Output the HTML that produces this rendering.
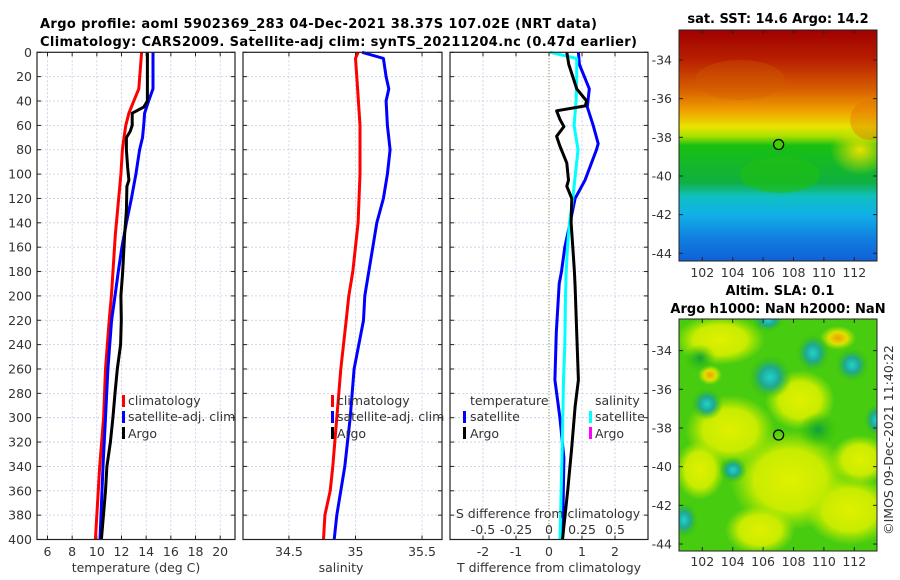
<!DOCTYPE html>
<html><head><meta charset="utf-8">
<style>
html,body{margin:0;padding:0;background:#fff;}
svg{display:block;font-family:"DejaVu Sans","Liberation Sans",sans-serif;}
.tk{font-size:12.5px;fill:#333;}
.ttl{font-size:13px;font-weight:bold;fill:#000;}
</style></head>
<body>
<svg id="fig" width="900" height="580" viewBox="0 0 900 580" xmlns="http://www.w3.org/2000/svg">
<defs>
<linearGradient id="sstg" x1="0" y1="0" x2="0" y2="1">
<stop offset="0" stop-color="#a00000"/><stop offset="0.13" stop-color="#b82000"/>
<stop offset="0.26" stop-color="#d86000"/><stop offset="0.35" stop-color="#f0a000"/>
<stop offset="0.42" stop-color="#e8e400"/><stop offset="0.46" stop-color="#a8e000"/>
<stop offset="0.5" stop-color="#18c010"/><stop offset="0.66" stop-color="#10b040"/>
<stop offset="0.72" stop-color="#10c0c0"/><stop offset="0.8" stop-color="#10b0e8"/>
<stop offset="0.9" stop-color="#1080e0"/><stop offset="1" stop-color="#1060d8"/>
</linearGradient>
<radialGradient id="teal"><stop offset="0" stop-color="#20d0d0"/><stop offset="0.45" stop-color="#20a890"/><stop offset="1" stop-color="#30c000" stop-opacity="0"/></radialGradient>
<radialGradient id="dkg"><stop offset="0" stop-color="#10a040"/><stop offset="1" stop-color="#30c000" stop-opacity="0"/></radialGradient>
<radialGradient id="yel"><stop offset="0" stop-color="#e0f000"/><stop offset="0.6" stop-color="#c8ec00"/><stop offset="1" stop-color="#b0e800" stop-opacity="0"/></radialGradient>
<radialGradient id="org"><stop offset="0" stop-color="#f0a000"/><stop offset="0.5" stop-color="#e0e000"/><stop offset="1" stop-color="#c0e800" stop-opacity="0"/></radialGradient>
<radialGradient id="yelR"><stop offset="0" stop-color="#e8e000"/><stop offset="1" stop-color="#e8e000" stop-opacity="0"/></radialGradient>
<clipPath id="m1c"><rect x="679" y="30" width="198" height="231"/></clipPath>
<clipPath id="m2c"><rect x="679" y="319" width="198" height="232"/></clipPath>
</defs>
<text class="ttl" x="40" y="28" textLength="557">Argo profile: aoml 5902369_283 04-Dec-2021 38.37S 107.02E (NRT data)</text>
<text class="ttl" x="40" y="46" textLength="597">Climatology: CARS2009. Satellite-adj clim: synTS_20211204.nc (0.47d earlier)</text>
<g id="plots"></g>
<g clip-path="url(#m1c)">
<rect x="679" y="30" width="198" height="231" fill="url(#sstg)"/>
<ellipse cx="860" cy="150" rx="30" ry="25" fill="url(#yelR)"/>
<ellipse cx="870" cy="120" rx="20" ry="20" fill="#e07000" opacity="0.4"/>
<ellipse cx="740" cy="80" rx="45" ry="20" fill="#d06000" opacity="0.3"/>
<ellipse cx="780" cy="175" rx="40" ry="18" fill="#20c010" opacity="0.6"/>
</g>
<rect x="679" y="30" width="198" height="231" fill="none" stroke="#222"/>
<circle cx="778.6" cy="144.5" r="5" fill="#40d000" stroke="#000" stroke-width="1.3"/>
<text class="ttl" x="778" y="23" text-anchor="middle">sat. SST: 14.6 Argo: 14.2</text>
<g clip-path="url(#m2c)">
<rect x="679" y="319" width="198" height="232" fill="#48cc10"/>
<ellipse cx="790" cy="480" rx="60" ry="50" fill="url(#yel)"/>
<ellipse cx="730" cy="430" rx="45" ry="35" fill="url(#yel)"/>
<ellipse cx="850" cy="510" rx="45" ry="35" fill="url(#yel)"/>
<ellipse cx="720" cy="340" rx="45" ry="25" fill="url(#yel)"/>
<ellipse cx="800" cy="400" rx="35" ry="30" fill="url(#yel)"/>
<ellipse cx="860" cy="460" rx="30" ry="25" fill="url(#yel)"/>
<ellipse cx="760" cy="530" rx="35" ry="25" fill="url(#yel)"/>
<ellipse cx="700" cy="470" rx="25" ry="30" fill="url(#yel)"/>
<ellipse cx="838" cy="338" rx="18" ry="12" fill="url(#org)"/>
<ellipse cx="710" cy="375" rx="12" ry="10" fill="url(#org)"/>
<ellipse cx="770" cy="377" rx="22" ry="22" fill="url(#teal)"/>
<ellipse cx="813" cy="353" rx="17" ry="19" fill="url(#teal)"/>
<ellipse cx="852" cy="365" rx="17" ry="17" fill="url(#teal)"/>
<ellipse cx="707" cy="404" rx="16" ry="16" fill="url(#teal)"/>
<ellipse cx="818" cy="430" rx="20" ry="18" fill="url(#dkg)"/>
<ellipse cx="733" cy="470" rx="14" ry="13" fill="url(#teal)"/>
<ellipse cx="684" cy="520" rx="14" ry="18" fill="url(#teal)"/>
<ellipse cx="876" cy="420" rx="12" ry="16" fill="url(#teal)"/>
<ellipse cx="768" cy="320" rx="16" ry="12" fill="url(#teal)"/>
<ellipse cx="700" cy="358" rx="16" ry="14" fill="url(#dkg)"/>
</g>
<rect x="679" y="319" width="198" height="232" fill="none" stroke="#222"/>
<circle cx="778.6" cy="435" r="5" fill="none" stroke="#000" stroke-width="1.3"/>
<text class="ttl" x="780" y="295" text-anchor="middle">Altim. SLA: 0.1</text>
<text class="ttl" x="778" y="313" text-anchor="middle">Argo h1000: NaN h2000: NaN</text>
<text class="tk" transform="translate(893,440) rotate(-90)" text-anchor="middle">©IMOS 09-Dec-2021 11:40:22</text>
<g id="maps"></g>
</svg>
<script>
// ---- data ----
const depthTicks = [0,20,40,60,80,100,120,140,160,180,200,220,240,260,280,300,320,340,360,380,400];
const tempTicks = [6,8,10,12,14,16,18,20];
const salTicks = [34.5,35,35.5];
const salTickLabels = ["34.5","35","35.5"];
const tdiffTicks = [-2,-1,0,1,2];
const sdiffTicks = [-0.5,-0.25,0,0.25,0.5];
const sdiffTickLabels = ["-0.5","-0.25","0","0.25","0.5"];
const latTicks = [-34,-36,-38,-40,-42,-44];
const lonTicks = [102,104,106,108,110,112];

const climTdepth = [0,30,40,50,60,70,80,100,150,200,220,260,300,340,400];
const climT = [13.63,13.4,13.0,12.6,12.35,12.2,12.07,11.95,11.5,11.18,11.0,10.7,10.55,10.23,9.88];
const satTdepth = [0,30,40,50,60,70,80,100,120,140,160,180,200,220,260,300,340,400];
const satT = [14.55,14.55,14.2,13.87,13.8,13.7,13.47,13.17,12.8,12.4,12.03,11.74,11.47,11.2,10.9,10.7,10.5,10.26];
const argoTdepth = [0,40,45,50,60,65,70,80,95,105,110,130,150,180,200,220,240,260,280,300,320,340,360,400];
const argoT = [14.1,14.1,13.8,12.87,12.87,12.7,12.4,12.4,12.5,12.6,12.44,12.4,12.25,12.1,11.95,11.98,11.93,11.66,11.47,11.3,11.1,10.82,10.7,10.37];

const climSdepth = [0,5,20,60,100,140,180,200,220,260,300,340,360,380,400];
const climS = [35.02,35.0,35.01,35.034,35.034,35.02,34.98,34.95,34.93,34.89,34.86,34.83,34.81,34.77,34.76];
const satSdepth = [0,5,20,30,40,60,80,100,120,140,160,180,200,220,260,300,340,380,400];
const satS = [35.05,35.21,35.23,35.25,35.23,35.24,35.26,35.24,35.21,35.16,35.13,35.10,35.07,35.06,34.99,34.96,34.92,34.86,34.84];

const dTdepth = [0,10,30,45,60,75,80,105,120,140,160,180,190,230,269,300,333,400];
const dTsat = [0.89,0.92,1.22,1.16,1.34,1.49,1.44,1.09,0.79,0.64,0.48,0.38,0.31,0.22,0.18,0.33,0.45,0.41];
const dTargoDepth = [0,10,20,30,40,44,48,55,61,69,77,91,105,110,120,140,160,180,192,230,269,291,324,359,400];
const dTargo = [0.54,0.6,0.72,0.84,1.14,1.1,0.23,0.33,0.45,0.23,0.33,0.54,0.59,0.54,0.69,0.67,0.72,0.77,0.79,0.84,0.89,0.79,0.69,0.57,0.41];
const dSdepth = [0,5,20,40,60,80,100,120,140,160,180,200,240,270,325,400];
const dSsat = [0.008,0.21,0.21,0.205,0.19,0.22,0.2,0.18,0.155,0.14,0.13,0.125,0.12,0.11,0.10,0.083];

// ---- drawing ----
const NS="http://www.w3.org/2000/svg";
const root=document.getElementById('plots');
function mk(tag,attrs,parent){const e=document.createElementNS(NS,tag);for(const k in attrs)e.setAttribute(k,attrs[k]);(parent||root).appendChild(e);return e;}
const Y0=52.3, Y1=539.5;
function yD(d){return Y0+(d/400)*(Y1-Y0);}
const panels=[
 {x0:37,x1:235,v0:5.15,v1:21.2,name:'temperature'},
 {x0:243,x1:442,v0:34.155,v1:35.65,name:'salinity'},
 {x0:450,x1:648,v0:-3,v1:3,name:'difference'}];
function sx(p,v){return p.x0+(v-p.v0)/(p.v1-p.v0)*(p.x1-p.x0);}

function grid(p,ticks){
  for(const d of depthTicks){
    const l=mk('line',{x1:p.x0,x2:p.x1,y1:yD(d),y2:yD(d),stroke:'#c4cce8','stroke-width':0.8,'stroke-dasharray':'2,2'});
    
    
    mk('line',{x1:p.x0,x2:p.x0+4,y1:yD(d),y2:yD(d),stroke:'#222'});
    mk('line',{x1:p.x1-4,x2:p.x1,y1:yD(d),y2:yD(d),stroke:'#222'});
  }
  for(const t of ticks){
    const x=sx(p,t);
    const isZ=(t===0&&p.name==='difference');
    const l=mk('line',{x1:x,x2:x,y1:Y0,y2:Y1,stroke:isZ?'#707030':'#d0c8e0','stroke-width':isZ?1:0.8,'stroke-dasharray':isZ?'1,2':'2,2'});
    
    
    mk('line',{x1:x,x2:x,y1:Y1-4,y2:Y1,stroke:'#222'});
    mk('line',{x1:x,x2:x,y1:Y0,y2:Y0+4,stroke:'#222'});
  }
}
function frame(p){
  const r=mk('rect',{x:p.x0,y:Y0,width:p.x1-p.x0,height:Y1-Y0,fill:'none',stroke:'#222','stroke-width':1.2});
  
  
}
function line(p,depths,vals,color,name,scale){
  scale=scale||1;
  const pts=depths.map((d,i)=>sx(p,vals[i]*scale).toFixed(1)+','+yD(d).toFixed(1)).join(' ');
  const pl=mk('polyline',{points:pts,fill:'none',stroke:color,'stroke-width':3,'stroke-linejoin':'round'});
  
  
}
function txt(x,y,s,attrs,name){
  const t=mk('text',Object.assign({x:x,y:y,class:'tk'},attrs||{}));t.textContent=s;
  
  
  return t;
}
function legBar(x,y,c){const r=mk('rect',{x:x,y:y-11,width:3,height:12,fill:c});
  
  }

let p=panels[0];
grid(p,tempTicks);
line(p,climTdepth,climT,'#ff0000','climatology-temperature-line');
line(p,satTdepth,satT,'#0000ff','satellite-temperature-line');
line(p,argoTdepth,argoT,'#000000','argo-temperature-line');
frame(p);
for(const d of depthTicks) txt(32,yD(d)+4.5,String(d),{'text-anchor':'end'},'depth-tick-label');
for(const t of tempTicks) txt(sx(p,t),556,String(t),{'text-anchor':'middle'},'temperature-tick-label');
txt(136,572,'temperature (deg C)',{'text-anchor':'middle'},'temperature-axis-title');
legBar(122,406,'#ff0000');txt(128,405,'climatology',{},'legend-climatology');
legBar(122,422,'#0000ff');txt(128,421,'satellite-adj. clim',{},'legend-satellite-adj');
legBar(122,438,'#000');txt(128,438,'Argo',{},'legend-argo');

p=panels[1];
grid(p,salTicks);
line(p,climSdepth,climS,'#ff0000','climatology-salinity-line');
line(p,satSdepth,satS,'#0000ff','satellite-salinity-line');
frame(p);
salTicks.forEach((t,i)=>txt(sx(p,t),556,salTickLabels[i],{'text-anchor':'middle'},'salinity-tick-label'));
txt(341,572,'salinity',{'text-anchor':'middle'},'salinity-axis-title');
legBar(331,406,'#ff0000');txt(337,405,'climatology',{},'legend-climatology');
legBar(331,422,'#0000ff');txt(337,421,'satellite-adj. clim',{},'legend-satellite-adj');
legBar(331,438,'#000');txt(337,438,'Argo',{},'legend-argo');

p=panels[2];
grid(p,tdiffTicks);
line(p,dTdepth,dTsat,'#0000ff','satellite-tdiff-line');
line(p,dSdepth,dSsat,'#00ffff','satellite-sdiff-line',4);
line(p,dTargoDepth,dTargo,'#000000','argo-tdiff-line');
frame(p);
tdiffTicks.forEach(t=>txt(sx(p,t),556,String(t),{'text-anchor':'middle'},'tdiff-tick-label'));
txt(549,572,'T difference from climatology',{'text-anchor':'middle'},'tdiff-axis-title');
txt(548,518,'S difference from climatology',{'text-anchor':'middle'},'sdiff-axis-title');
sdiffTicks.forEach((t,i)=>txt(sx(p,t*4),534,sdiffTickLabels[i],{'text-anchor':'middle'},'sdiff-tick-label'));
txt(470,405,'temperature',{},'legend-temperature-heading');
legBar(463,422,'#0000ff');txt(470,421,'satellite',{},'legend-t-satellite');
legBar(463,438,'#000');txt(470,438,'Argo',{},'legend-t-argo');
txt(595,405,'salinity',{},'legend-salinity-heading');
legBar(589,422,'#00ffff');txt(595,421,'satellite',{},'legend-s-satellite');
legBar(589,438,'#ff00ff');txt(595,438,'Argo',{},'legend-s-argo');

const mroot=document.getElementById('maps');
function mapAxes(latRef,lonY,botY,topY){
  for(const la of latTicks){
    const y=latRef(la);
    if(y<topY-2||y>botY+2)continue;
    const t=mk('text',{x:672,y:y+4.5,class:'tk','text-anchor':'end'},mroot);t.textContent=String(la);
    
    
    mk('line',{x1:877,x2:873,y1:y,y2:y,stroke:'#222'},mroot);
    mk('line',{x1:679,x2:683,y1:y,y2:y,stroke:'#222'},mroot);
  }
  for(const lo of lonTicks){
    const x=702.3+(lo-102)*15.2;
    const t=mk('text',{x:x,y:lonY,class:'tk','text-anchor':'middle'},mroot);t.textContent=String(lo);
    
    
    mk('line',{x1:x,x2:x,y1:botY,y2:botY-4,stroke:'#222'},mroot);
    mk('line',{x1:x,x2:x,y1:topY,y2:topY+4,stroke:'#222'},mroot);
  }
}
mapAxes(la=>60+(-34-la)*19.33,277,261,30);
mapAxes(la=>389.3+(-36-la)*19.34,566,551,319);
</script>
</body></html>
